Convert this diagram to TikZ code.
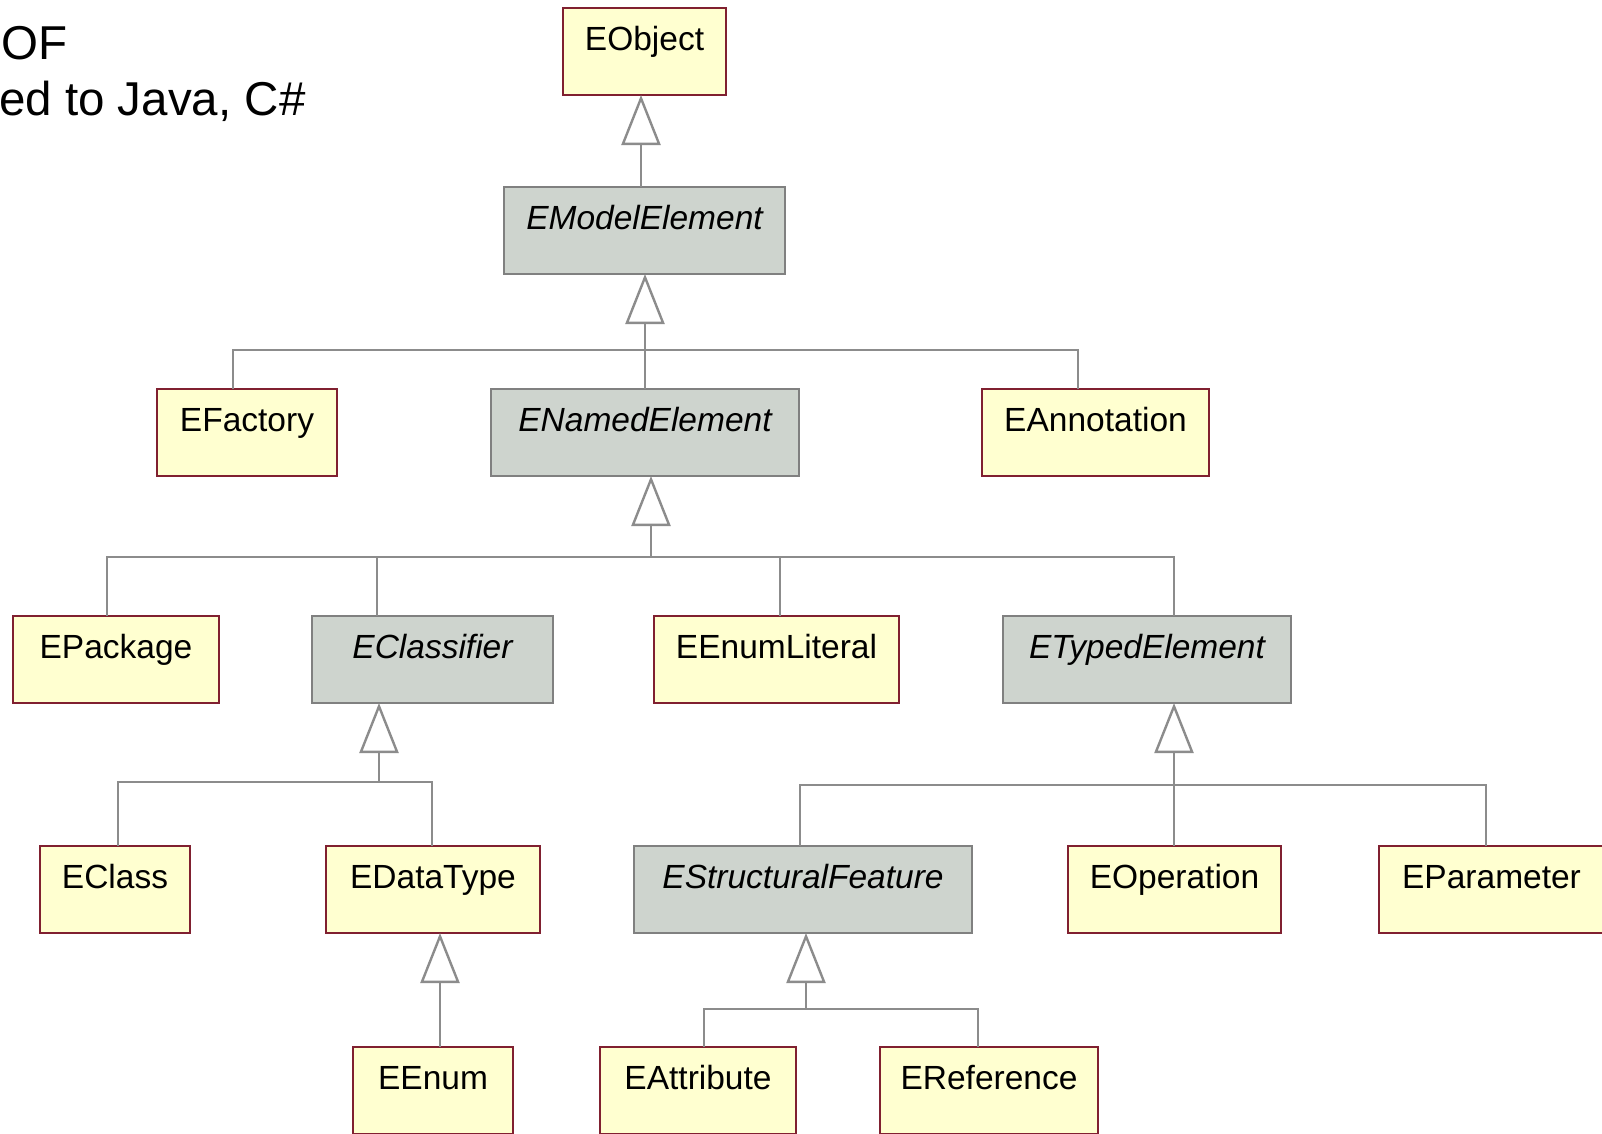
\documentclass[tikz,border=0pt]{standalone}
\usepackage{fontspec}
\setmainfont{Liberation Sans}
\usetikzlibrary{arrows.meta}

\definecolor{boxyellow}{RGB}{255,255,208}
\definecolor{boxred}{RGB}{128,32,48}
\definecolor{absgray}{RGB}{206,212,206}
\definecolor{absborder}{RGB}{128,128,128}
\definecolor{linkgray}{RGB}{140,140,140}

\newcommand\clsfont{\fontsize{33.5}{40}\selectfont}
\newcommand\slidefont{\fontsize{47.5}{56}\selectfont}

\tikzset{
  classbox/.style={inner sep=0pt, outer sep=0pt, anchor=north west,
    text height=42pt, text depth=45pt, font=\clsfont},
  concrete/.style={classbox, draw=boxred, fill=boxyellow, line width=2.6pt},
  abstract/.style={classbox, draw=absborder, fill=absgray, line width=2.4pt,
    font=\clsfont\itshape},
  link/.style={draw=linkgray, line width=2.4pt},
  generalize/.style={link, -{Triangle[open, length=50pt, width=39pt, fill=white]}},
  slidetext/.style={inner sep=0pt, anchor=base west, font=\slidefont}
}

\begin{document}
\begin{tikzpicture}[x=1pt, y=-1pt]
\useasboundingbox (0,0) rectangle (1602,1133);
\clip (0,0) rectangle (1602,1133);
\fill[white] (0,0) rectangle (1602,1133);

% slide text on the left
\node[slidetext] (lineone) at (1,59) {OF};
\node[slidetext] (linetwo) at (-1,115) {ed to Java, C\#};

% classes
\node[concrete, minimum width=163pt] (eobject) at (563,8) {EObject};
\node[abstract, minimum width=281pt] (emodel) at (504,187) {EModelElement};

\node[concrete, minimum width=180pt] (efactory) at (157,389) {EFactory};
\node[abstract, minimum width=308pt] (enamed) at (491,389) {ENamedElement};
\node[concrete, minimum width=227pt] (eannot) at (982,389) {EAnnotation};

\node[concrete, minimum width=206pt] (epackage) at (13,616) {EPackage};
\node[abstract, minimum width=241pt] (eclassifier) at (312,616) {EClassifier};
\node[concrete, minimum width=245pt] (eenumlit) at (654,616) {EEnumLiteral};
\node[abstract, minimum width=288pt] (etyped) at (1003,616) {ETypedElement};

\node[concrete, minimum width=150pt] (eclass) at (40,846) {EClass};
\node[concrete, minimum width=214pt] (edatatype) at (326,846) {EDataType};
\node[abstract, minimum width=338pt] (estruct) at (634,846) {EStructuralFeature};
\node[concrete, minimum width=213pt] (eoperation) at (1068,846) {EOperation};
\node[concrete, minimum width=225pt] (eparam) at (1379,846) {EParameter};

\node[concrete, minimum width=160pt] (eenum) at (353,1047) {EEnum};
\node[concrete, minimum width=196pt] (eattr) at (600,1047) {EAttribute};
\node[concrete, minimum width=218pt] (eref) at (880,1047) {EReference};

% EModelElement -> EObject
\draw[generalize] ([xshift=-3.5pt]emodel.north) -- ([xshift=-3.5pt]eobject.south);

% children of EModelElement
\coordinate (busA) at (645,350);
\draw[generalize] (busA) -- ([xshift=0.5pt]emodel.south);
\draw[link] ([xshift=-14pt]efactory.north) |- (busA);
\draw[link] (enamed.north) |- (busA);
\draw[link] ([xshift=-17.5pt]eannot.north) |- (busA);

% children of ENamedElement
\coordinate (busB) at (651,557);
\draw[generalize] (busB) -- ([xshift=6pt]enamed.south);
\draw[link] ([xshift=-9pt]epackage.north) |- (busB);
\draw[link] ([xshift=-55.5pt]eclassifier.north) |- (busB);
\draw[link] ([xshift=3.5pt]eenumlit.north) |- (busB);
\draw[link] ([xshift=27pt]etyped.north) |- (busB);

% children of EClassifier
\coordinate (busC) at (379,782);
\draw[generalize] (busC) -- ([xshift=-53.5pt]eclassifier.south);
\draw[link] ([xshift=3pt]eclass.north) |- (busC);
\draw[link] ([xshift=-1pt]edatatype.north) |- (busC);

% children of ETypedElement
\coordinate (busD) at (1174,785);
\draw[generalize] (busD) -- ([xshift=27pt]etyped.south);
\draw[link] ([xshift=-3pt]estruct.north) |- (busD);
\draw[link] ([xshift=-0.5pt]eoperation.north) |- (busD);
\draw[link] ([xshift=-5.5pt]eparam.north) |- (busD);

% EEnum -> EDataType
\draw[generalize] ([xshift=7pt]eenum.north) -- ([xshift=7pt]edatatype.south);

% children of EStructuralFeature
\coordinate (busE) at (806,1009);
\draw[generalize] (busE) -- ([xshift=3pt]estruct.south);
\draw[link] ([xshift=6pt]eattr.north) |- (busE);
\draw[link] ([xshift=-11pt]eref.north) |- (busE);
\end{tikzpicture}
\end{document}
